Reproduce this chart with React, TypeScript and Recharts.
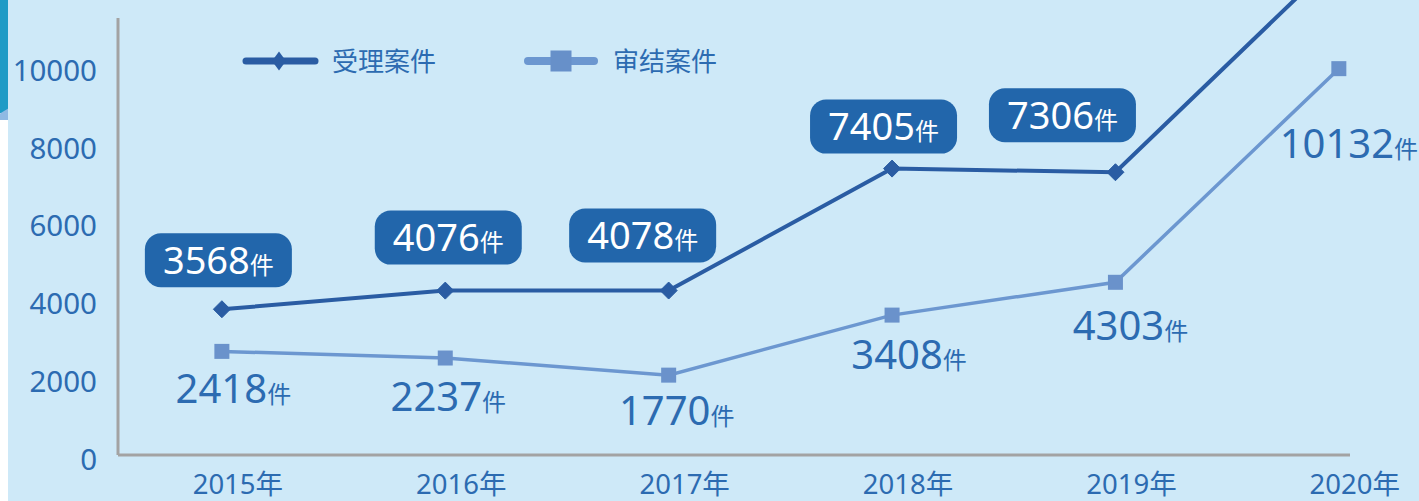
import React from 'react';
import { LineChart, Line, XAxis, YAxis, LabelList, Legend } from 'recharts';

// ---- data ----
const years = [2015, 2016, 2017, 2018, 2019, 2020];
const accepted = [3568, 4076, 4078, 7405, 7306, 13170]; // 2020 point runs off the top of the picture
const concluded = [2418, 2237, 1770, 3408, 4303, 10132];
const acceptedLabels = [3568, 4076, 4078, 7405, 7306, null];
const yTicks = [0, 2000, 4000, 6000, 8000, 10000];
const xTicks = [2015, 2016, 2017, 2018, 2019, 2020];
const seriesNames = ['受理案件', '审结案件'];
const unit = '件';
const yearUnit = '年';

const data = years.map((year, i) => ({
  year,
  accepted: accepted[i],
  concluded: concluded[i],
  acceptedLabel: acceptedLabels[i],
}));

// ---- style config ----
const BG = '#cee9f8';
const DARK = '#2a5ca3';
const LIGHT = '#6c97d0';
const TEXT = '#2c6bb1';
const BOX = '#2266ab';
const AXIS = '#a3a3a3';
const FONT = '"Noto Sans", "Noto Sans CJK SC", sans-serif';
const CJK = '"Noto Sans CJK SC", "Noto Sans", sans-serif';

const acceptedBoxOffsets = [[-3.5, -49], [3, -53], [-26, -55], [-8.5, -42], [-53, -57], [0, 0]];
const concludedTextOffsets = [[11.5, 38], [3, 39], [8, 36], [17, 40], [15, 44], [10, 75]];

function pos(props: any) {
  const vb = props.viewBox || {};
  const x = props.x ?? vb.x;
  const y = props.y ?? vb.y;
  const w = props.width ?? vb.width ?? 0;
  const h = props.height ?? vb.height ?? 0;
  return { x: x + (w || 0) / 2, y: y + (h || 0) / 2 };
}

const AcceptedLabel = (props: any) => {
  const { value } = props;
  if (value == null) return null;
  const idx = typeof props.index === 'number' ? props.index : acceptedLabels.indexOf(value);
  const off = acceptedBoxOffsets[idx] || [0, -50];
  const p = pos(props);
  const cx = p.x + off[0];
  const cy = p.y + off[1];
  const bw = 147;
  const bh = 54;
  return (
    <g>
      <rect x={cx - bw / 2} y={cy - bh / 2} width={bw} height={bh} rx={16} ry={16} fill={BOX} />
      <text x={cx} y={cy + 13.5} textAnchor="middle" fill="#ffffff" fontFamily={FONT}>
        <tspan fontSize={38}>{value}</tspan>
        <tspan fontSize={24} fontFamily={CJK}>{unit}</tspan>
      </text>
    </g>
  );
};

const ConcludedLabel = (props: any) => {
  const { value } = props;
  if (value == null) return null;
  const idx = typeof props.index === 'number' ? props.index : concluded.indexOf(value);
  const off = concludedTextOffsets[idx] || [0, 40];
  const p = pos(props);
  const cx = p.x + off[0];
  const cy = p.y + off[1];
  return (
    <text x={cx} y={cy + 14} textAnchor="middle" fill={TEXT} fontFamily={FONT}>
      <tspan fontSize={40}>{value}</tspan>
      <tspan fontSize={24} fontFamily={CJK}>{unit}</tspan>
    </text>
  );
};

const Diamond = (props: any) => {
  const { cx, cy, index } = props;
  if (cx == null || cy == null) return null;
  const r = 8.5;
  return (
    <path
      key={`d-${index}`}
      d={`M${cx},${cy - r} L${cx + r},${cy} L${cx},${cy + r} L${cx - r},${cy} Z`}
      fill={DARK}
      stroke={DARK}
      strokeWidth={1}
      strokeLinejoin="round"
    />
  );
};

const Square = (props: any) => {
  const { cx, cy, index } = props;
  if (cx == null || cy == null) return null;
  const s = 15;
  return <rect key={`s-${index}`} x={cx - s / 2} y={cy - s / 2} width={s} height={s} fill="#6a92cb" />;
};

const LegendContent = () => (
  <svg width={520} height={40} style={{ display: 'block' }}>
    <line x1={8} y1={20} x2={77} y2={20} stroke={DARK} strokeWidth={7} strokeLinecap="round" />
    <path d="M41,10.5 L48,20 L41,29.5 L34,20 Z" fill={DARK} />
    <text x={94} y={30} fontSize={26} fill={TEXT} fontFamily={CJK}>{seriesNames[0]}</text>
    <line x1={290} y1={20} x2={356} y2={20} stroke={LIGHT} strokeWidth={8} strokeLinecap="round" />
    <rect x={312.5} y={9.5} width={21} height={21} fill="#6790c9" />
    <text x={375} y={30} fontSize={26} fill={TEXT} fontFamily={CJK}>{seriesNames[1]}</text>
  </svg>
);

export default function App() {
  return (
    <div style={{ position: 'absolute', left: 0, top: 0, width: 1419, height: 501, background: '#ffffff', overflow: 'hidden' }}>
      <style>{`.recharts-line-curve{clip-path:none !important;}`}</style>
      <div style={{ position: 'absolute', left: 0, top: 0, width: 9, height: 113, background: '#1f9bc6' }} />
      <div
        style={{
          position: 'absolute', left: 0, top: 108, width: 9, height: 12, background: '#8fb9e3',
          clipPath: 'polygon(0 45%, 100% 0, 100% 100%, 0 100%)',
        }}
      />
      <div style={{ position: 'absolute', left: 8, top: 0, width: 1411, height: 501, background: BG }}>
        <LineChart width={1411} height={501} data={data} margin={{ top: 18, right: 69, bottom: 0, left: 0 }}>
          <XAxis
            dataKey="year"
            type="number"
            domain={[2014.535, 2020.05]}
            allowDataOverflow
            ticks={xTicks}
            interval={0}
            tickFormatter={(v: number) => `${v}${yearUnit}`}
            height={46}
            tickSize={0}
            tickMargin={19}
            tickLine={false}
            axisLine={{ stroke: AXIS, strokeWidth: 3 }}
            tick={{ fill: TEXT, fontSize: 27.5, fontFamily: FONT, dx: 16 }}
          />
          <YAxis yAxisId="d" type="number" domain={[-409, 11514]} allowDataOverflow hide width={0} />
          <YAxis
            yAxisId="t"
            type="number"
            domain={[105, 11354]}
            allowDataOverflow
            ticks={yTicks}
            interval={0}
            width={110}
            tickSize={0}
            tickMargin={21}
            tickLine={false}
            axisLine={{ stroke: AXIS, strokeWidth: 3 }}
            tick={{ fill: TEXT, fontSize: 29.5, fontFamily: FONT }}
          />
          <Legend
            layout="horizontal"
            verticalAlign="middle"
            align="center"
            content={<LegendContent />}
            wrapperStyle={{ position: 'absolute', left: 230, top: 41, width: 520, height: 40 }}
          />
          <Line
            yAxisId="d"
            dataKey="concluded"
            name={seriesNames[1]}
            stroke={LIGHT}
            strokeWidth={3.5}
            dot={<Square />}
            activeDot={false}
            isAnimationActive={false}
          >
            <LabelList dataKey="concluded" content={<ConcludedLabel />} />
          </Line>
          <Line
            yAxisId="d"
            dataKey="accepted"
            name={seriesNames[0]}
            stroke={DARK}
            strokeWidth={4}
            dot={<Diamond />}
            activeDot={false}
            isAnimationActive={false}
          >
            <LabelList dataKey="acceptedLabel" content={<AcceptedLabel />} />
          </Line>
        </LineChart>
      </div>
    </div>
  );
}
